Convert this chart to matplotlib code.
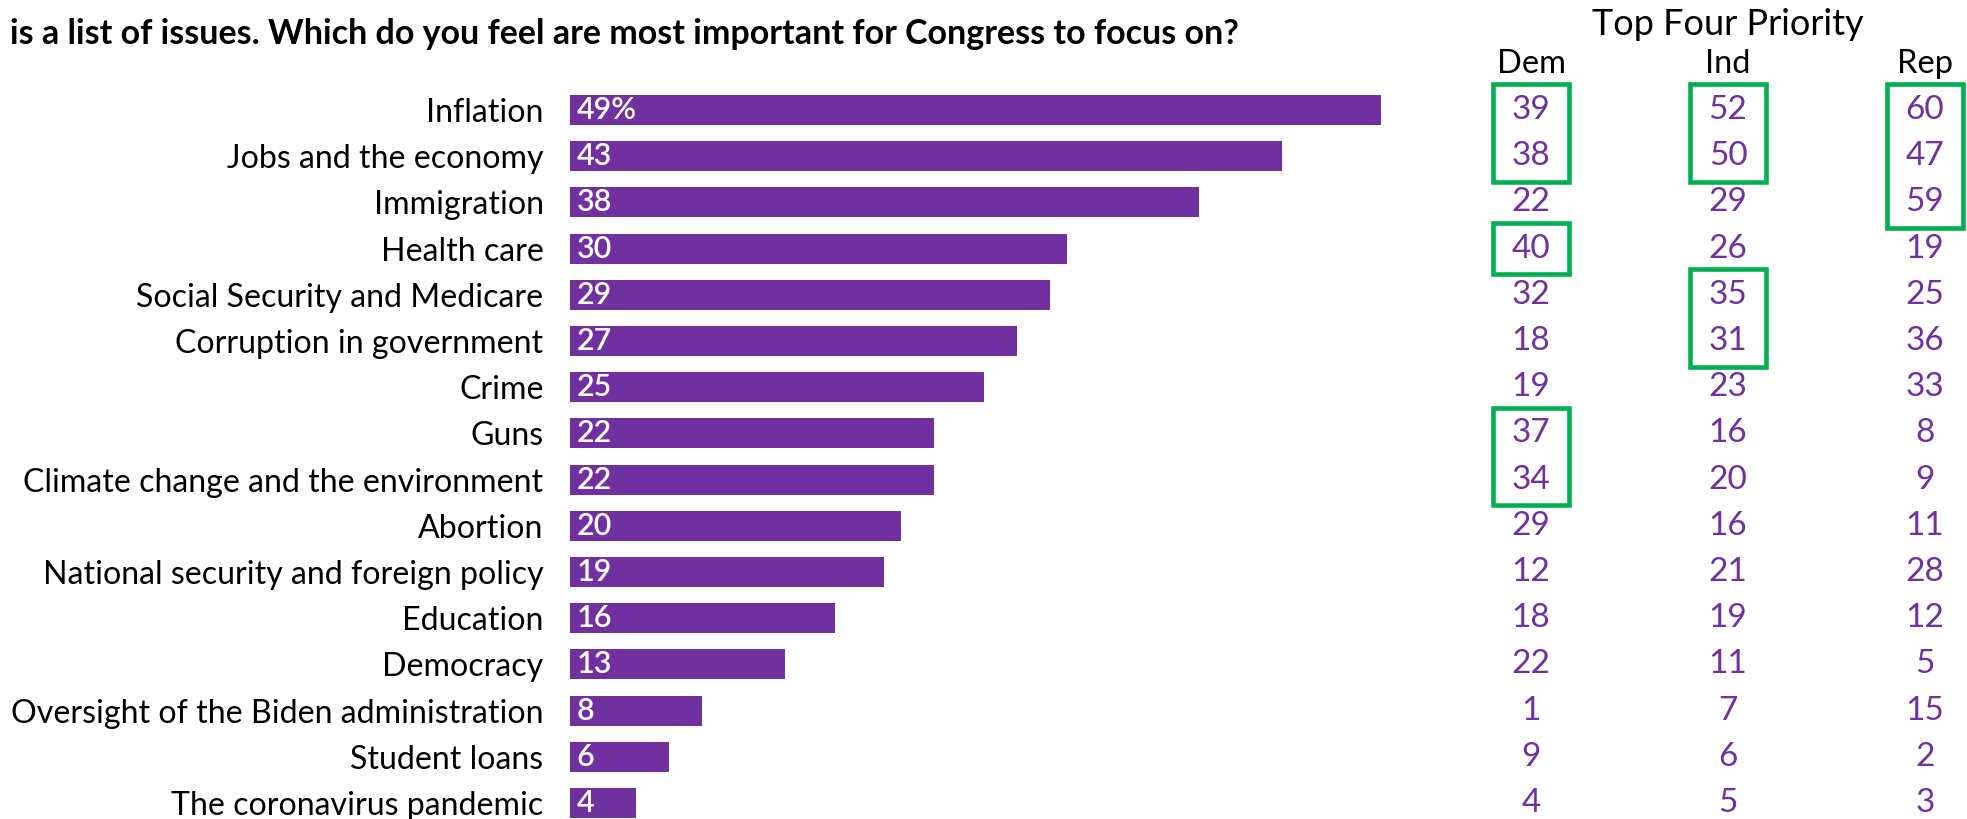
import matplotlib.pyplot as plt
from matplotlib.patches import Rectangle

issues = ["Inflation", "Jobs and the economy", "Immigration", "Health care",
          "Social Security and Medicare", "Corruption in government", "Crime",
          "Guns", "Climate change and the environment", "Abortion",
          "National security and foreign policy", "Education", "Democracy",
          "Oversight of the Biden administration", "Student loans",
          "The coronavirus pandemic"]
total = [49, 43, 38, 30, 29, 27, 25, 22, 22, 20, 19, 16, 13, 8, 6, 4]
dem = [39, 38, 22, 40, 32, 18, 19, 37, 34, 29, 12, 18, 22, 1, 9, 4]
ind = [52, 50, 29, 26, 35, 31, 23, 16, 20, 16, 21, 19, 11, 7, 6, 5]
rep = [60, 47, 59, 19, 25, 36, 33, 8, 9, 11, 28, 12, 5, 15, 2, 3]
groups = ["Dem", "Ind", "Rep"]
# top four per group: (first row, last row) of each highlighted run
top_boxes = {"Dem": [(0, 1), (3, 3), (7, 8)],
             "Ind": [(0, 1), (4, 5)],
             "Rep": [(0, 2)]}

title = "is a list of issues. Which do you feel are most important for Congress to focus on?"

purple = "#7030A0"
green = "#00B050"
plt.rcParams['font.family'] = ['Lato', 'DejaVu Sans']

W, H = 1967, 819
fig = plt.figure(figsize=(W / 100, H / 100), dpi=100)

row_px = 46.2
top_px = 110 - row_px / 2
ybot = -0.5 + (H - top_px) / row_px

# bar chart
x0, x1 = 570, 1381
ax = fig.add_axes([x0 / W, 0, (x1 - x0) / W, (H - top_px) / H])
ypos = list(range(len(issues)))
ax.barh(ypos, total, height=0.65, color=purple)
ax.set_xlim(0, max(total))
ax.set_ylim(ybot, -0.5)
ax.set_yticks(ypos)
ax.set_yticklabels(issues, fontsize=23.1)
ax.tick_params(axis='y', length=0, pad=19)
ax.set_xticks([])
for s in ax.spines.values():
    s.set_visible(False)
for i, v in enumerate(total):
    lab = f"{v}%" if i == 0 else str(v)
    ax.annotate(lab, (0, i), xytext=(5, 0), textcoords='offset points',
                va='center', ha='left', color='white', fontsize=22,
                fontweight='semibold')

fig.text(10 / W, 1 - 34 / H, title, fontsize=24.5, fontweight='bold',
         va='center', ha='left')

# right-hand table
t0 = 1400
col_sp = 197
tx = fig.add_axes([t0 / W, 0, (W - t0) / W, (H - top_px) / H])
tx.set_xlim(-(1531 - t0) / col_sp, 2 + (W - 1925) / col_sp)
tx.set_ylim(ybot, -0.5)
tx.axis('off')
cols = [dem, ind, rep]
for c, (g, vals) in enumerate(zip(groups, cols)):
    tx.text(c, -0.99, g, ha='center', va='center', fontsize=23.5, clip_on=False)
    for i, v in enumerate(vals):
        tx.text(c, i, str(v), ha='center', va='center', fontsize=24,
                color=purple)
    for r0, r1 in top_boxes[g]:
        tx.add_patch(Rectangle((c - 0.195, r0 - 0.56), 0.39, r1 - r0 + 1.12,
                               fill=False, edgecolor=green, lw=3.3,
                               clip_on=False))
tx.text(1, -1.86, "Top Four Priority", ha='center', va='center', fontsize=26,
        clip_on=False)

fig.savefig("out.png", dpi=100)
